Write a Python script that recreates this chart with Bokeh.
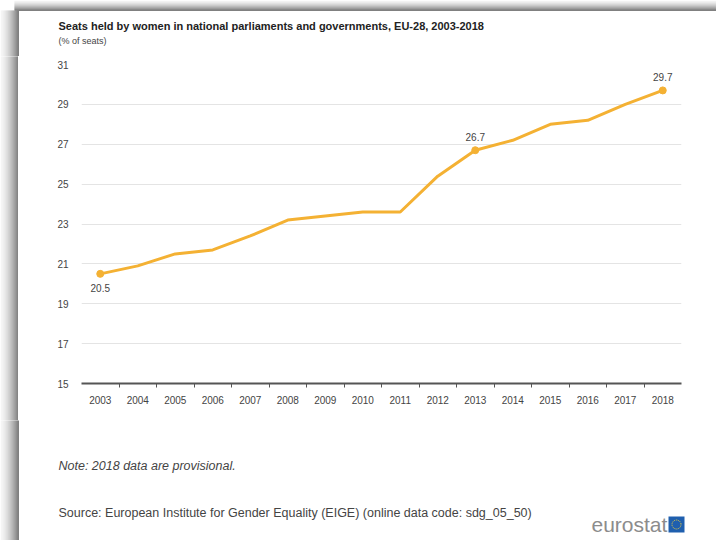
from bokeh.plotting import figure
from bokeh.models import Range1d, FixedTicker, Label
from bokeh.layouts import column, row
from bokeh.embed import file_html
from bokeh.resources import INLINE

years = list(range(2003, 2019))
seats = [20.5, 20.9, 21.5, 21.7, 22.4, 23.2, 23.4, 23.6, 23.6, 25.4, 26.7, 27.2, 28.0, 28.2, 29.0, 29.7]
labelled_years = [2003, 2013, 2018]
y_ticks = [15, 17, 19, 21, 23, 25, 27, 29, 31]

title_text = "Seats held by women in national parliaments and governments, EU-28, 2003-2018"
subtitle_text = "(% of seats)"
note_text = "Note: 2018 data are provisional."
source_text = "Source: European Institute for Gender Equality (EIGE) (online data code: sdg_05_50)"
logo_text = "eurostat"

NARROW = "Liberation Sans Narrow, Arial Narrow, Liberation Sans, sans-serif"
LINE_COLOR = "#F4B133"
TEXT = "#444444"

TOTAL_W = 716
HEAD_H, MAIN_H, FOOT_H = 56, 364, 120
SHADOW_W, SHADOW_H = 18, 10


def gray(t):
    v = int(round(248 - 120 * t ** 1.6))
    return "#%02x%02x%02x" % (v, v, v)


def blank(w, h):
    f = figure(width=w, height=h, output_backend="svg", toolbar_location=None,
               x_range=Range1d(0, w), y_range=Range1d(h, 0),
               min_border=0, min_border_left=0, min_border_right=0,
               min_border_top=0, min_border_bottom=0)
    f.axis.visible = False
    f.grid.visible = False
    f.outline_line_color = None
    f.background_fill_color = "white"
    f.border_fill_color = "white"
    f.frame_align = False
    return f


def left_shadow(f, y0, y1):
    xs = list(range(SHADOW_W))
    f.quad(left=xs, right=[x + 1.5 for x in xs], top=[y0 - 2] * len(xs), bottom=[y1 + 4] * len(xs),
           fill_color=[gray((x + 1) / SHADOW_W) for x in xs], line_color=None)


# ---------- header ----------
head = blank(TOTAL_W, HEAD_H)
ys = list(range(SHADOW_H))
head.quad(left=[SHADOW_W - 4] * len(ys), right=[TOTAL_W] * len(ys), top=ys, bottom=[y + 1.5 for y in ys],
          fill_color=[gray((y + 1) / SHADOW_H) for y in ys], line_color=None)
left_shadow(head, SHADOW_H + 2, HEAD_H)
head.add_layout(Label(x=58, y=25, text=title_text, text_baseline="middle",
                      text_font=NARROW, text_font_size="11px", text_font_style="bold",
                      text_color="#222222"))
head.add_layout(Label(x=58, y=40, text=subtitle_text, text_baseline="middle",
                      text_font=NARROW, text_font_size="9px", text_color=TEXT))

# ---------- left strip ----------
strip = blank(SHADOW_W, MAIN_H)
left_shadow(strip, -4, MAIN_H)

# ---------- main chart ----------
p = figure(width=TOTAL_W - SHADOW_W, height=MAIN_H, output_backend="svg", toolbar_location=None,
           x_range=Range1d(years[0] - 0.5, years[-1] + 0.5),
           y_range=Range1d(y_ticks[0], y_ticks[-1]),
           min_border_left=63, min_border_right=35, min_border_top=8, min_border_bottom=37)
p.outline_line_color = None
p.background_fill_color = "white"
p.border_fill_color = "white"
p.frame_align = False

p.xgrid.grid_line_color = None
p.ygrid.grid_line_color = "#e4e4e4"
p.ygrid.ticker = FixedTicker(ticks=y_ticks)

p.yaxis.ticker = FixedTicker(ticks=y_ticks)
p.yaxis.axis_line_color = None
p.yaxis.major_tick_line_color = None
p.yaxis.minor_tick_line_color = None
p.yaxis.major_label_text_font = NARROW
p.yaxis.major_label_text_font_size = "10px"
p.yaxis.major_label_text_color = TEXT
p.yaxis.major_label_standoff = 7

p.xaxis.ticker = FixedTicker(ticks=years, minor_ticks=[y + 0.5 for y in years[:-1]])
p.xaxis.axis_line_color = "#555555"
p.xaxis.axis_line_width = 2
p.xaxis.major_tick_line_color = None
p.xaxis.minor_tick_line_color = "#555555"
p.xaxis.minor_tick_out = 4
p.xaxis.minor_tick_in = 0
p.xaxis.major_label_text_font = NARROW
p.xaxis.major_label_text_font_size = "10px"
p.xaxis.major_label_text_color = TEXT
p.xaxis.major_label_standoff = 6

p.line(years, seats, line_color=LINE_COLOR, line_width=3)
lx = [y for y in years if y in labelled_years]
ly = [v for y, v in zip(years, seats) if y in labelled_years]
p.scatter(lx, ly, size=7, fill_color=LINE_COLOR, line_color=LINE_COLOR)
for x, v in zip(lx, ly):
    below = x == years[0]
    p.add_layout(Label(x=x, y=v, text=f"{v:.1f}", text_align="center",
                       text_baseline="top" if below else "bottom",
                       y_offset=-10 if below else 9,
                       text_font=NARROW, text_font_size="10px", text_color=TEXT))

# ---------- footer ----------
foot = blank(TOTAL_W, FOOT_H)
left_shadow(foot, -4, FOOT_H)
foot.add_layout(Label(x=58, y=45, text=note_text, text_baseline="middle",
                      text_font="Liberation Sans", text_font_size="12.5px", text_font_style="italic",
                      text_color=TEXT))
foot.add_layout(Label(x=58, y=92, text=source_text, text_baseline="middle",
                      text_font="Liberation Sans", text_font_size="12.5px", text_color=TEXT))
foot.add_layout(Label(x=591, y=104, text=logo_text, text_baseline="middle",
                      text_font=NARROW, text_font_size="21px", text_color="#8c8c8c"))
foot.quad(left=[668], right=[684], top=[96], bottom=[112], fill_color="#1f5fae", line_color=None)
foot.scatter([676], [104], size=9, marker="circle", fill_color=None, line_color="#f2d23c",
             line_width=1, line_dash="1 1")

layout = column(head, row(strip, p, spacing=0), foot, spacing=0)
open("out.html", "w").write(file_html(layout, INLINE))
